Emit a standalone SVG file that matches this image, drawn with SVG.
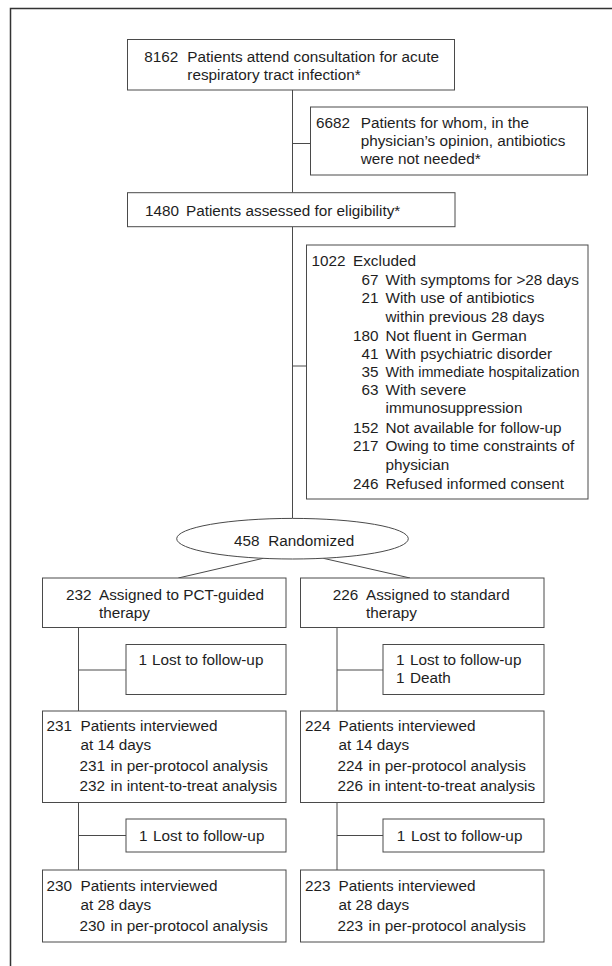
<svg xmlns="http://www.w3.org/2000/svg" width="612" height="966" viewBox="0 0 612 966">
<style>
.box{fill:#fff;stroke:#4a4a4a;stroke-width:1}
.ln{fill:none;stroke:#4a4a4a;stroke-width:1}
.frame{fill:none;stroke:#333;stroke-width:1.5}
text{font-family:"Liberation Sans",Arial,sans-serif;font-size:15.3px;fill:#1e1e1e}
.r{text-anchor:end}
</style>
<rect width="612" height="966" fill="#fff"/>
<path class="frame" d="M10.5,966 V8.5 H612"/>
<g id="connectors">
<line class="ln" x1="292.5" y1="90" x2="292.5" y2="192.7"/>
<line class="ln" x1="292.5" y1="143.5" x2="310.5" y2="143.5"/>
<line class="ln" x1="292.5" y1="226.7" x2="292.5" y2="518.4"/>
<line class="ln" x1="292.5" y1="366" x2="306.5" y2="366"/>
<line class="ln" x1="263.3" y1="558.3" x2="178.3" y2="578"/>
<line class="ln" x1="323.3" y1="558.3" x2="410" y2="578"/>
<line class="ln" x1="78.5" y1="627.5" x2="78.5" y2="711"/>
<line class="ln" x1="78.5" y1="670" x2="126" y2="670"/>
<line class="ln" x1="337" y1="627.5" x2="337" y2="711"/>
<line class="ln" x1="337" y1="670" x2="383" y2="670"/>
<line class="ln" x1="78.5" y1="802.5" x2="78.5" y2="870"/>
<line class="ln" x1="78.5" y1="835.5" x2="126" y2="835.5"/>
<line class="ln" x1="337" y1="802.5" x2="337" y2="870"/>
<line class="ln" x1="337" y1="835.5" x2="383" y2="835.5"/>
</g>
<g id="attend">
<rect class="box" x="127.5" y="39.5" width="327" height="50.5"/>
<text x="144.3" y="61.5">8162</text><text x="187.3" y="61.5">Patients attend consultation for acute</text>
<text x="187.3" y="80">respiratory tract infection*</text>
</g>
<g id="notneeded">
<rect class="box" x="310.5" y="107" width="277" height="68"/>
<text x="316" y="127.5">6682</text><text x="360.7" y="127.5">Patients for whom, in the</text>
<text x="360.7" y="145.5">physician’s opinion, antibiotics</text>
<text x="360.7" y="163.5">were not needed*</text>
</g>
<g id="eligible">
<rect class="box" x="127.5" y="192.7" width="327.5" height="34"/>
<text x="145" y="215.5">1480</text><text x="186" y="215.5">Patients assessed for eligibility*</text>
</g>
<g id="excluded">
<rect class="box" x="306.5" y="245" width="281.5" height="254"/>
<text x="311.5" y="266">1022</text><text x="353" y="266">Excluded</text>
<text class="r" x="378.5" y="284.5">67</text><text x="385.5" y="284.5">With symptoms for &gt;28 days</text>
<text class="r" x="378.5" y="303">21</text><text x="385.5" y="303">With use of antibiotics</text>
<text x="385.5" y="321.5">within previous 28 days</text>
<text class="r" x="378.5" y="340.5">180</text><text x="385.5" y="340.5">Not fluent in German</text>
<text class="r" x="378.5" y="358.5">41</text><text x="385.5" y="358.5">With psychiatric disorder</text>
<text class="r" x="378.5" y="376.5">35</text><text x="385.5" y="376.5" textLength="194" lengthAdjust="spacingAndGlyphs">With immediate hospitalization</text>
<text class="r" x="378.5" y="394.5">63</text><text x="385.5" y="394.5">With severe</text>
<text x="385.5" y="413">immunosuppression</text>
<text class="r" x="378.5" y="432.5">152</text><text x="385.5" y="432.5">Not available for follow-up</text>
<text class="r" x="378.5" y="451">217</text><text x="385.5" y="451">Owing to time constraints of</text>
<text x="385.5" y="469.5">physician</text>
<text class="r" x="378.5" y="488.5">246</text><text x="385.5" y="488.5">Refused informed consent</text>
</g>
<g id="randomized">
<ellipse class="box" cx="292.5" cy="538.7" rx="115.8" ry="20.3"/>
<text x="234" y="545.5">458</text><text x="268.3" y="545.5">Randomized</text>
</g>
<g id="pct">
<rect class="box" x="42.5" y="578" width="243.5" height="49.5"/>
<text x="66" y="599.5">232</text><text x="99" y="599.5">Assigned to PCT-guided</text>
<text x="99" y="617.5">therapy</text>
</g>
<g id="standard">
<rect class="box" x="300.5" y="578" width="243.5" height="49.5"/>
<text x="332.7" y="599.5">226</text><text x="366" y="599.5">Assigned to standard</text>
<text x="366" y="617.5">therapy</text>
</g>
<g id="lost1-pct">
<rect class="box" x="126" y="644.5" width="160" height="50"/>
<text x="138.5" y="664.5">1</text><text x="152" y="664.5">Lost to follow-up</text>
</g>
<g id="lost1-std">
<rect class="box" x="383" y="644.5" width="161" height="50"/>
<text x="396" y="664.5">1</text><text x="410" y="664.5">Lost to follow-up</text>
<text x="396" y="683">1</text><text x="410" y="683">Death</text>
</g>
<g id="day14-pct">
<rect class="box" x="42.5" y="711" width="243.5" height="91.5"/>
<text x="46.5" y="731">231</text><text x="80.5" y="731">Patients interviewed</text>
<text x="80.5" y="750">at 14 days</text>
<text x="79.5" y="771">231</text><text x="110.5" y="771">in per-protocol analysis</text>
<text x="79.5" y="790.5">232</text><text x="110.5" y="790.5">in intent-to-treat analysis</text>
</g>
<g id="day14-std">
<rect class="box" x="300.5" y="711" width="243.5" height="91.5"/>
<text x="305" y="731">224</text><text x="338.5" y="731">Patients interviewed</text>
<text x="338.5" y="750">at 14 days</text>
<text x="337.5" y="771">224</text><text x="368.5" y="771">in per-protocol analysis</text>
<text x="337.5" y="790.5">226</text><text x="368.5" y="790.5">in intent-to-treat analysis</text>
</g>
<g id="lost2-pct">
<rect class="box" x="126" y="819" width="160" height="33"/>
<text x="139" y="841">1</text><text x="153" y="841">Lost to follow-up</text>
</g>
<g id="lost2-std">
<rect class="box" x="383" y="819" width="161" height="33"/>
<text x="396.7" y="841">1</text><text x="411" y="841">Lost to follow-up</text>
</g>
<g id="day28-pct">
<rect class="box" x="42.5" y="870" width="243.5" height="72"/>
<text x="46.5" y="891">230</text><text x="80.5" y="891">Patients interviewed</text>
<text x="80.5" y="910">at 28 days</text>
<text x="79.5" y="930.5">230</text><text x="110.5" y="930.5">in per-protocol analysis</text>
</g>
<g id="day28-std">
<rect class="box" x="300.5" y="870" width="243.5" height="72"/>
<text x="305" y="891">223</text><text x="338.5" y="891">Patients interviewed</text>
<text x="338.5" y="910">at 28 days</text>
<text x="337.5" y="930.5">223</text><text x="368.5" y="930.5">in per-protocol analysis</text>
</g>
</svg>
